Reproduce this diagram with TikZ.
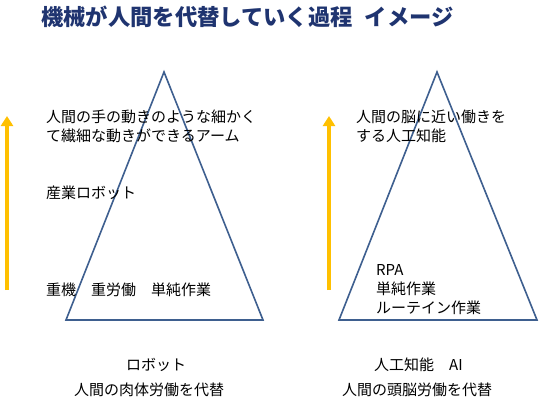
\documentclass[tikz,border=0pt]{standalone}
\usepackage{fontspec}
\setmainfont{Noto Sans CJK JP}
\usetikzlibrary{arrows.meta}
\definecolor{titleblue}{HTML}{1F3470}
\definecolor{triblue}{HTML}{3E5F8F}
\definecolor{arrowgold}{HTML}{FFC000}
\begin{document}
\begin{tikzpicture}[x=1pt,y=-1pt,
  lbl/.style={anchor=west,inner sep=0pt,align=left,font=\fontsize{15}{19}\selectfont},
  tri/.style={draw=triblue,line width=1.6pt,line join=miter},
  uparrow/.style={draw=arrowgold,line width=3.6pt,-{Triangle[width=12pt,length=10pt]}}]
\useasboundingbox[fill=white] (0,0) rectangle (540,410);
% title
\node[anchor=west,inner sep=0pt,text=titleblue,font=\fontsize{22.3}{26}\selectfont\bfseries] (title) at (41,17) {機械が人間を代替していく過程\hspace{12pt}イメージ};
% triangles
\draw[tri] (164,72) -- (263,320) -- (66,320) -- cycle;
\draw[tri] (437,72) -- (537,320) -- (339,320) -- cycle;
% arrows
\coordinate (la0) at (7,290);
\coordinate (la1) at (7,116);
\coordinate (ra0) at (329,290);
\coordinate (ra1) at (329,116);
\draw[uparrow] (la0) -- (la1);
\draw[uparrow] (ra0) -- (ra1);
% left texts
\node[lbl] (l1) at (46,126.5) {人間の手の動きのような細かく\\て繊細な動きができるアーム};
\node[lbl] (l2) at (46,193) {産業ロボット};
\node[lbl] (l3) at (46,290) {重機　重労働　単純作業};
% right texts
\node[lbl] (r1) at (356,126.5) {人間の脳に近い働きを\\する人工知能};
\node[lbl] (r2) at (376,290) {RPA\\単純作業\\ルーテイン作業};
% bottom
\node[lbl] (b1) at (126,365) {ロボット};
\node[lbl] (b2) at (74,390) {人間の肉体労働を代替};
\node[lbl] (b3) at (374,365) {人工知能　AI};
\node[lbl] (b4) at (342,390) {人間の頭脳労働を代替};
\end{tikzpicture}
\end{document}
